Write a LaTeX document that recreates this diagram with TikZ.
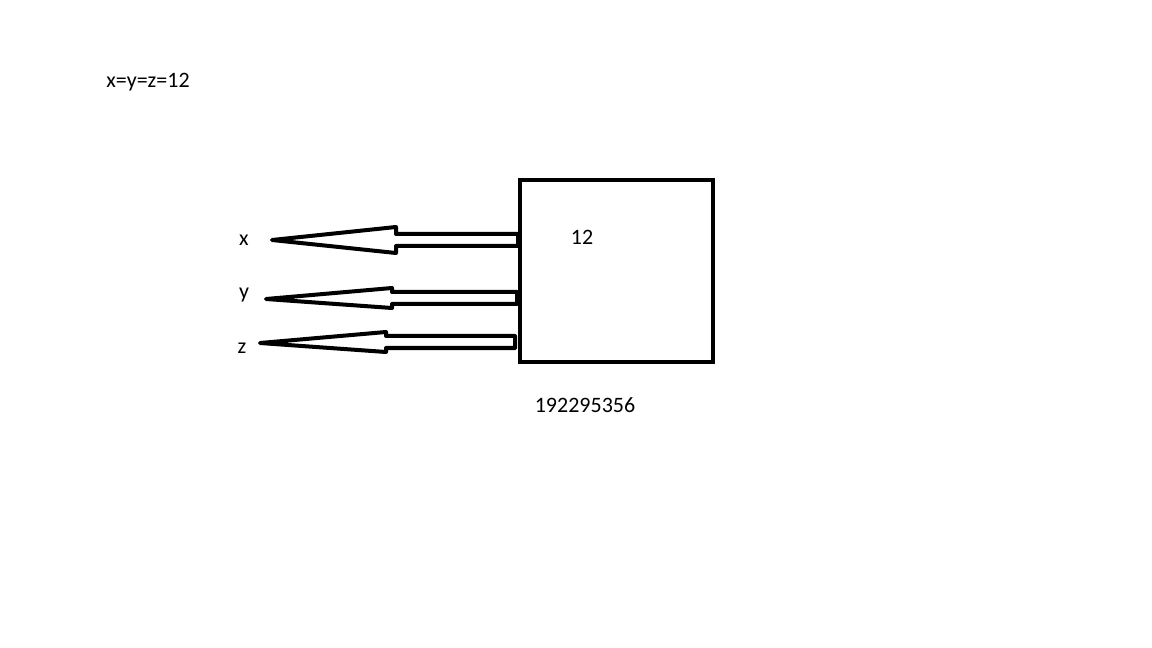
\documentclass[tikz,border=0pt]{standalone}
\usepackage{fontspec}
\setmainfont{Carlito}
\usepackage{tikz}
\usetikzlibrary{calc,positioning}

% hollow block arrow: tip x, tip y, head base x, shaft end x, shaft y, head half height
\newcommand{\hollowarrow}[6]{%
  \draw[outline] (#1,#2) -- (#3,#5-#6) -- (#3,#5-6) -- (#4,#5-6)
    -- (#4,#5+6) -- (#3,#5+6) -- (#3,#5+#6) -- cycle;}

\begin{document}
\begin{tikzpicture}[x=0.75pt,y=-0.75pt,
  every node/.style={font=\fontsize{16.5}{20}\selectfont,inner sep=0pt},
  outline/.style={line width=3pt,line join=round,black}]
  \useasboundingbox[fill=white] (0,0) rectangle (1152,648);
  \node (eq) at (148,82) {x=y=z=12};
  \node[draw,line width=3.2pt,minimum width=144.75pt,minimum height=136.5pt,
    anchor=north west] (box) at (518,178) {};
  \node (val) at (582,237) {12};
  \node (num) at (585,405) {192295356};
  \node (lx) at (244,240) {x};
  \node (ly) at (244,295) {y};
  \node (lz) at (242,348) {z};
  \hollowarrow{272}{240}{396}{518}{240}{13}
  \hollowarrow{266}{299}{392}{517}{298}{10}
  \hollowarrow{260}{343}{386}{515}{342}{10}
\end{tikzpicture}
\end{document}
